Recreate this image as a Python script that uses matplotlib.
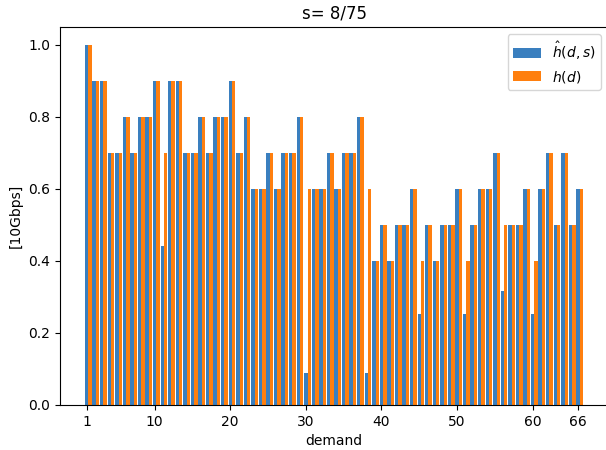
import matplotlib
matplotlib.use("Agg")
import matplotlib.pyplot as plt
import numpy as np

# demand index 1..66
demands = np.arange(1, 67)

# estimated rate h_hat(d, s) for s = 8/75
h_hat = [1.0, 0.9, 0.9, 0.7, 0.7, 0.8, 0.7, 0.8, 0.8, 0.9,
         0.443, 0.9, 0.9, 0.7, 0.7, 0.8, 0.7, 0.8, 0.8, 0.9,
         0.7, 0.8, 0.6, 0.6, 0.7, 0.6, 0.7, 0.7, 0.8, 0.089,
         0.6, 0.6, 0.7, 0.6, 0.7, 0.7, 0.8, 0.089, 0.4, 0.5,
         0.4, 0.5, 0.5, 0.6, 0.253, 0.5, 0.4, 0.5, 0.5, 0.6,
         0.253, 0.5, 0.6, 0.6, 0.7, 0.318, 0.5, 0.5, 0.6, 0.253,
         0.6, 0.7, 0.5, 0.7, 0.5, 0.6]

# true rate h(d)
h_true = [1.0, 0.9, 0.9, 0.7, 0.7, 0.8, 0.7, 0.8, 0.8, 0.9,
          0.7, 0.9, 0.9, 0.7, 0.7, 0.8, 0.7, 0.8, 0.8, 0.9,
          0.7, 0.8, 0.6, 0.6, 0.7, 0.6, 0.7, 0.7, 0.8, 0.6,
          0.6, 0.6, 0.7, 0.6, 0.7, 0.7, 0.8, 0.6, 0.4, 0.5,
          0.4, 0.5, 0.5, 0.6, 0.4, 0.5, 0.4, 0.5, 0.5, 0.6,
          0.4, 0.5, 0.6, 0.6, 0.7, 0.5, 0.5, 0.5, 0.6, 0.4,
          0.6, 0.7, 0.5, 0.7, 0.5, 0.6]

xticks = [1, 10, 20, 30, 40, 50, 60, 66]

w = 0.45
fig = plt.figure(figsize=(6.06, 4.5), dpi=100)
# the original picture is cropped on the right, so the axes run past the edge
ax = fig.add_axes([60 / 606, 45 / 450, 548 / 606, 378 / 450])
ax.bar(demands, h_hat, width=w, color='#3a7fbf', label=r'$\hat{h}(d,s)$')
ax.bar(demands + w, h_true, width=w, color='#ff7f0e', label=r'$h(d)$')

ax.set_xticks(xticks)
ax.set_title('s= 8/75')
ax.set_xlabel('demand')
ax.set_ylabel('[10Gbps]')
ax.legend(loc='upper right')

plt.savefig('out.png')
